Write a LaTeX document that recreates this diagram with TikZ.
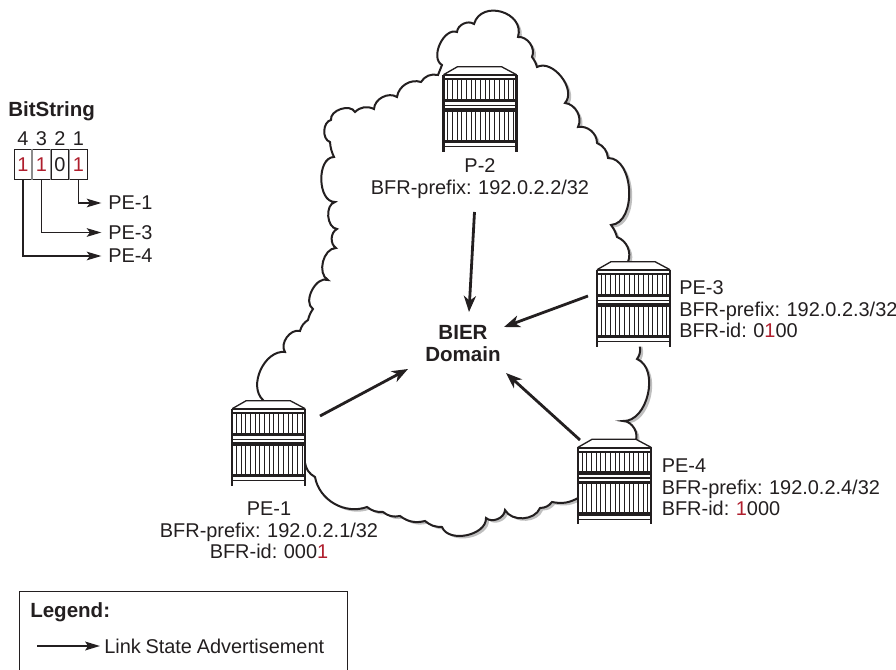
\documentclass[tikz,border=0pt]{standalone}
\usepackage{fontspec}
\setmainfont[WordSpace=0.85]{Liberation Sans}
\usetikzlibrary{arrows.meta,calc}
\definecolor{bitred}{RGB}{175,30,45}
\definecolor{ink}{RGB}{35,31,32}
\tikzset{
  lbl/.style={font=\fontsize{14.95}{16.2}\selectfont,text=ink,inner sep=0pt,align=center},
  lbll/.style={lbl,align=left},
  boldlbl/.style={lbl,font=\fontsize{15.4}{16}\selectfont\bfseries},
  adv/.style={draw=ink,line width=2.1pt,-{Stealth[length=12pt,width=9pt,inset=3.5pt]}},
  legendarrow/.style={draw=ink,line width=1.6pt,-{Stealth[length=11pt,width=6.5pt,inset=2pt]}},
  bitline/.style={draw=ink,line width=0.9pt,-{Stealth[length=11pt,width=6.5pt,inset=2.5pt]}},
  cellbox/.style={draw=ink,line width=0.8pt,fill=white,minimum height=23pt,inner sep=0pt,font=\fontsize{14.95}{16.2}\selectfont},
  router/.pic={
    \fill[white] (0,8) -- (14,0) -- (58,0) -- (73,8) -- (73,85) -- (0,85) -- cycle;
    \draw[ink,line width=1pt,line join=round] (0,8) -- (14,0) -- (58,0) -- (73,8);
    \draw[ink,line width=1.3pt] (0,8.5) -- (73,8.5);
    \draw[ink,line width=1.1pt] (0,12.5) -- (73,12.5);
    \foreach \xx in {4,8.7,...,71}{
      \draw[ink,line width=0.6pt] (\xx,13) -- (\xx,32);
      \draw[ink,line width=0.6pt] (\xx,44) -- (\xx,73);
    }
    \fill[ink] (0,32) rectangle (73,35.5);
    \draw[ink,line width=0.9pt] (0,38.6) -- (73,38.6);
    \fill[ink] (0,41.5) rectangle (73,45);
    \fill[ink] (0,73) rectangle (73,76.5);
    \draw[ink,line width=0.9pt] (0,80) -- (73,80);
    \draw[ink,line width=1.9pt] (0,8) -- (0,85) (73,8) -- (73,85);
  },
}
\newcommand{\cloudpath}{
  (263,400)
  to[bend left=72] (285,352)
  to[bend left=70] (300,331)
  to[bend left=20] (308,320)
  to[bend left=10] (313,309)
  to[bend left=85] (328,280)
  to[bend left=75] (336,248)
  to[bend left=60] (337,229)
  to[bend left=80] (335,202)
  to[bend left=90] (334,157)
  to[bend left=10] (330,142)
  to[bend left=75] (331,120)
  to[bend left=80] (355,112)
  to[bend left=35] (374,109)
  to[bend left=60] (397,97)
  to[bend left=50] (421,82)
  to[bend left=35] (438,75)
  to (442,65)
  to[bend left=85] (457,32)
  to[bend left=60] (474,24)
  to[bend left=90,looseness=1.45] (518,37)
  to[bend left=60] (532,57)
  to[bend left=10] (537,67)
  to[bend left=80] (565,103)
  to[bend left=55] (578,127)
  to[bend left=50] (597,143)
  to[bend left=30] (608,158)
  to[bend left=88] (611,225)
  to[bend left=10] (617,237)
  to[bend left=45] (628,262)
  -- (640,348)
  to[bend left=20] (637,359)
  to[bend left=80] (623,421)
  to[bend left=60] (635,442)
  -- (578,498)
  to[bend left=20] (552,502)
  to[bend left=25] (540,508)
  to[bend left=65] (505,510)
  to[bend left=65] (486,518)
  to[bend left=80] (442,527)
  to[bend left=20] (425,521)
  to[bend left=25] (400,516)
  to[bend left=25] (383,512)
  to[bend left=20] (367,507)
  to[bend left=50] (315,477)
  to[bend left=25] (305,463)
  -- cycle
}
\begin{document}
\begin{tikzpicture}[x=0.75pt,y=-0.75pt]
\useasboundingbox (0,0) rectangle (896,670);
% cloud
\fill[black!25,shift={(3,2.5)}] \cloudpath;
\draw[ink,fill=white,line width=1.5pt,line join=miter] \cloudpath;
% routers
\pic at (443.5,66.7) {router};
\pic at (597,261.7) {router};
\pic at (578,439.3) {router};
\pic at (232.2,400.7) {router};
% labels
\node[lbl] (p2l) at (480,178.5) {P-2\\BFR-prefix: 192.0.2.2/32};
\node[lbll,anchor=west] (pe3l) at (679,309.5) {PE-3\\BFR-prefix: 192.0.2.3/32\\BFR-id: 0\textcolor{bitred}{1}00};
\node[lbll,anchor=west] (pe4l) at (661.5,487.5) {PE-4\\BFR-prefix: 192.0.2.4/32\\BFR-id: \textcolor{bitred}{1}000};
\node[lbl] (pe1l) at (269,530.5) {PE-1\\BFR-prefix: 192.0.2.1/32\\BFR-id: 000\textcolor{bitred}{1}};
\node[boldlbl] (dom) at (463,343.5) {BIER\\Domain};
% advert arrows
\coordinate (a1s) at (474.5,212); \coordinate (a1e) at (469,312);
\coordinate (a2s) at (588,296);   \coordinate (a2e) at (504,327);
\coordinate (a3s) at (320,416);   \coordinate (a3e) at (408,369);
\coordinate (a4s) at (580,440);   \coordinate (a4e) at (506,373);
\draw[adv] (a1s) -- (a1e);
\draw[adv] (a2s) -- (a2e);
\draw[adv] (a3s) -- (a3e);
\draw[adv] (a4s) -- (a4e);
% bitstring
\node[boldlbl,anchor=west] (bs) at (8,111) {BitString};
\node[cellbox,minimum width=13.4pt,text=bitred] (c4) at (23,164.5) {1};
\node[cellbox,minimum width=13.4pt,text=bitred] (c3) at (41.5,164.5) {1};
\node[cellbox,minimum width=13.4pt,text=ink] (c2) at (60,164.5) {0};
\node[cellbox,minimum width=13.4pt,text=bitred] (c1) at (78.5,164.5) {1};
\draw[black!45,line width=1.4pt] ($(c4.north east)!0.5!(c3.north west)$) -- ($(c4.south east)!0.5!(c3.south west)$);
\draw[black!40,line width=0.7pt] ($(c3.north east)!0.5!(c2.north west)$) -- ($(c3.south east)!0.5!(c2.south west)$);
\draw[black!40,line width=0.7pt] ($(c2.north east)!0.5!(c1.north west)$) -- ($(c2.south east)!0.5!(c1.south west)$);
\node[lbl,above=2pt] at (c4.north) (n4) {4};
\node[lbl,above=2pt] at (c3.north) (n3) {3};
\node[lbl,above=2pt] at (c2.north) (n2) {2};
\node[lbl,above=2pt] at (c1.north) (n1) {1};
\node[lbl,anchor=west] (t1) at (108,203) {PE-1};
\node[lbl,anchor=west] (t3) at (108,232.5) {PE-3};
\node[lbl,anchor=west] (t4) at (108,256) {PE-4};
\draw[bitline,shorten >=5pt] (c1.south) |- (t1.west);
\draw[bitline,shorten >=5pt] (c3.south) |- (t3.west);
\draw[bitline,shorten >=5pt] (c4.south) |- (t4.west);
% legend
\node[draw=ink,line width=0.9pt,minimum width=246pt,minimum height=62pt,anchor=north west,inner sep=0pt] (legend) at (19,590.7) {};
\node[boldlbl,anchor=west] (lt) at (30,612) {Legend:};
\node[lbl,anchor=west] (ll) at (104,646) {Link State Advertisement};
\coordinate (ls) at (37,646);
\draw[legendarrow,shorten >=3pt] (ls) -- (ll.west);
\end{tikzpicture}
\end{document}
